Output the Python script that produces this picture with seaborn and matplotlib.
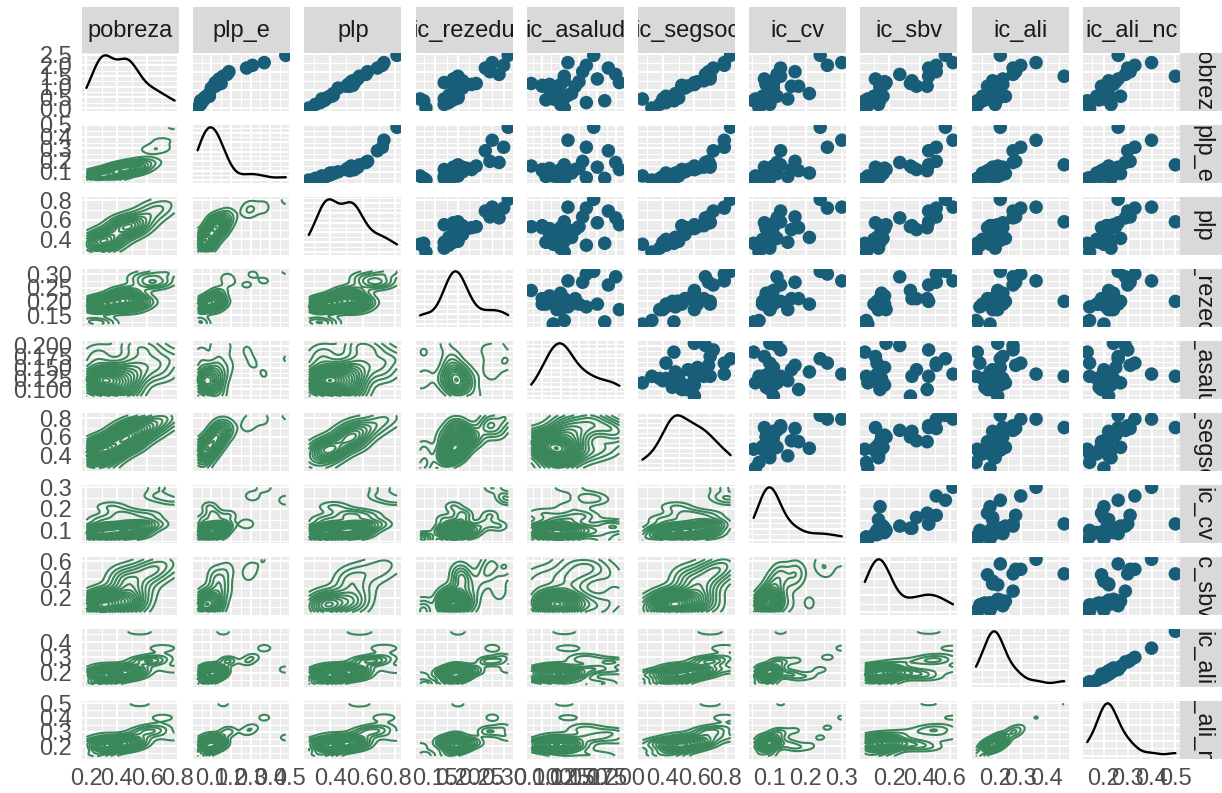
import numpy as np
import pandas as pd
import matplotlib
matplotlib.use("Agg")
import matplotlib.pyplot as plt
import seaborn as sns
from matplotlib.ticker import MaxNLocator

# ---- data: one value per state, ten poverty / deprivation indicators ----
pobreza   = [0.33, 0.26, 0.30, 0.44, 0.30, 0.32, 0.78, 0.33, 0.28, 0.45, 0.46, 0.70, 0.50, 0.31, 0.48, 0.57,
             0.49, 0.42, 0.20, 0.67, 0.64, 0.29, 0.36, 0.47, 0.33, 0.24, 0.55, 0.34, 0.52, 0.60, 0.44, 0.46]
plp_e     = [0.075, 0.05, 0.06, 0.12, 0.065, 0.07, 0.48, 0.09, 0.045, 0.12, 0.12, 0.37, 0.14, 0.065, 0.12, 0.18,
             0.13, 0.10, 0.03, 0.31, 0.28, 0.06, 0.09, 0.15, 0.085, 0.045, 0.16, 0.085, 0.14, 0.19, 0.11, 0.13]
plp       = [0.40, 0.34, 0.37, 0.50, 0.35, 0.39, 0.81, 0.40, 0.36, 0.54, 0.52, 0.73, 0.54, 0.38, 0.55, 0.62,
             0.53, 0.45, 0.27, 0.72, 0.69, 0.37, 0.42, 0.53, 0.41, 0.31, 0.58, 0.42, 0.57, 0.63, 0.52, 0.51]
ic_rezedu = [0.19, 0.18, 0.17, 0.21, 0.117, 0.20, 0.31, 0.19, 0.125, 0.19, 0.23, 0.275, 0.21, 0.20, 0.17, 0.29,
             0.19, 0.21, 0.13, 0.30, 0.26, 0.19, 0.19, 0.24, 0.20, 0.17, 0.20, 0.18, 0.19, 0.27, 0.21, 0.22]
ic_asalud = [0.12, 0.16, 0.12, 0.145, 0.115, 0.11, 0.17, 0.125, 0.185, 0.10, 0.125, 0.135, 0.13, 0.13, 0.205, 0.20,
             0.15, 0.11, 0.13, 0.16, 0.19, 0.105, 0.14, 0.085, 0.115, 0.125, 0.13, 0.135, 0.175, 0.155, 0.10, 0.11]
ic_segsoc = [0.47, 0.42, 0.40, 0.56, 0.27, 0.46, 0.83, 0.42, 0.47, 0.52, 0.60, 0.79, 0.66, 0.50, 0.60, 0.67,
             0.62, 0.54, 0.33, 0.79, 0.72, 0.46, 0.48, 0.60, 0.49, 0.38, 0.70, 0.48, 0.70, 0.69, 0.55, 0.60]
ic_cv     = [0.08, 0.10, 0.15, 0.16, 0.06, 0.10, 0.24, 0.09, 0.055, 0.10, 0.09, 0.30, 0.11, 0.08, 0.10, 0.12,
             0.11, 0.11, 0.07, 0.26, 0.13, 0.09, 0.21, 0.11, 0.12, 0.10, 0.13, 0.095, 0.085, 0.17, 0.18, 0.09]
ic_sbv    = [0.10, 0.12, 0.13, 0.38, 0.06, 0.14, 0.57, 0.13, 0.04, 0.14, 0.15, 0.62, 0.35, 0.12, 0.18, 0.27,
             0.17, 0.14, 0.05, 0.51, 0.46, 0.14, 0.14, 0.34, 0.16, 0.13, 0.46, 0.12, 0.11, 0.51, 0.45, 0.17]
ic_ali    = [0.17, 0.14, 0.19, 0.19, 0.18, 0.22, 0.22, 0.15, 0.13, 0.18, 0.23, 0.36, 0.19, 0.19, 0.21, 0.27,
             0.22, 0.20, 0.125, 0.30, 0.27, 0.16, 0.18, 0.21, 0.24, 0.20, 0.47, 0.19, 0.23, 0.28, 0.17, 0.21]
ic_ali_nc = [0.20, 0.14, 0.22, 0.20, 0.20, 0.23, 0.26, 0.17, 0.13, 0.21, 0.24, 0.40, 0.22, 0.19, 0.24, 0.29,
             0.25, 0.21, 0.14, 0.33, 0.30, 0.18, 0.20, 0.22, 0.27, 0.23, 0.50, 0.21, 0.26, 0.31, 0.19, 0.22]

variables = ["pobreza", "plp_e", "plp", "ic_rezedu", "ic_asalud",
             "ic_segsoc", "ic_cv", "ic_sbv", "ic_ali", "ic_ali_nc"]

# axis breaks and their labels for each indicator
ticks_pobreza   = [0.2, 0.4, 0.6, 0.8]
ticks_plp_e     = [0.1, 0.2, 0.3, 0.4, 0.5]
ticks_plp       = [0.4, 0.6, 0.8]
ticks_ic_rezedu = [0.15, 0.20, 0.25, 0.30]
ticks_ic_asalud = [0.100, 0.125, 0.150, 0.175, 0.200]
ticks_ic_segsoc = [0.4, 0.6, 0.8]
ticks_ic_cv     = [0.1, 0.2, 0.3]
ticks_ic_sbv    = [0.2, 0.4, 0.6]
ticks_ic_ali    = [0.2, 0.3, 0.4]
ticks_ic_ali_nc = [0.2, 0.3, 0.4, 0.5]

labels_pobreza   = ["0.2", "0.4", "0.6", "0.8"]
labels_plp_e     = ["0.1", "0.2", "0.3", "0.4", "0.5"]
labels_plp       = ["0.4", "0.6", "0.8"]
labels_ic_rezedu = ["0.15", "0.20", "0.25", "0.30"]
labels_ic_asalud = ["0.100", "0.125", "0.150", "0.175", "0.200"]
labels_ic_segsoc = ["0.4", "0.6", "0.8"]
labels_ic_cv     = ["0.1", "0.2", "0.3"]
labels_ic_sbv    = ["0.2", "0.4", "0.6"]
labels_ic_ali    = ["0.2", "0.3", "0.4"]
labels_ic_ali_nc = ["0.2", "0.3", "0.4", "0.5"]

df = pd.DataFrame({
    "pobreza": pobreza, "plp_e": plp_e, "plp": plp, "ic_rezedu": ic_rezedu,
    "ic_asalud": ic_asalud, "ic_segsoc": ic_segsoc, "ic_cv": ic_cv,
    "ic_sbv": ic_sbv, "ic_ali": ic_ali, "ic_ali_nc": ic_ali_nc,
})
breaks = dict(zip(variables, [ticks_pobreza, ticks_plp_e, ticks_plp, ticks_ic_rezedu, ticks_ic_asalud,
                              ticks_ic_segsoc, ticks_ic_cv, ticks_ic_sbv, ticks_ic_ali, ticks_ic_ali_nc]))
break_labels = dict(zip(variables, [labels_pobreza, labels_plp_e, labels_plp, labels_ic_rezedu,
                                    labels_ic_asalud, labels_ic_segsoc, labels_ic_cv, labels_ic_sbv,
                                    labels_ic_ali, labels_ic_ali_nc]))

# ---- style ----
sns.set_style("white")
plt.rcParams["font.family"] = ["Liberation Sans", "DejaVu Sans"]

W, H = 1222, 793
fig = plt.figure(figsize=(W / 100, H / 100), dpi=100)
fig.patch.set_facecolor("white")

PANEL_BG = "#EBEBEB"
STRIP_BG = "#D9D9D9"
POINT_COL = "#185E79"
CONTOUR_COL = "#3A875A"
TICK_TXT = "#4D4D4D"
FS = 17

left0, step_x, pw = 82.0, 111.2, 97.0
top0, step_y, ph = 52.7, 72.0, 58.0
strip_h = 46.0


def box(x0, y0, w, h):
    return [x0 / W, 1 - (y0 + h) / H, w / W, h / H]


def expanded(vals):
    lo, hi = min(vals), max(vals)
    pad = 0.05 * (hi - lo)
    return lo - pad, hi + pad


def minor_breaks(major, lim):
    major = list(major)
    if len(major) < 2:
        return []
    step = major[1] - major[0]
    cand = [m - step / 2 for m in major] + [major[-1] + step / 2]
    return [c for c in cand if lim[0] <= c <= lim[1]]


def set_grid(ax, xmaj, xlim, ymaj, ylim):
    ax.set_xlim(*xlim)
    ax.set_ylim(*ylim)
    ax.set_xticks([t for t in xmaj if xlim[0] <= t <= xlim[1]])
    ax.set_yticks([t for t in ymaj if ylim[0] <= t <= ylim[1]])
    ax.set_xticks(minor_breaks(xmaj, xlim), minor=True)
    ax.set_yticks(minor_breaks(ymaj, ylim), minor=True)
    ax.grid(which="major", color="white", linewidth=1.5)
    ax.grid(which="minor", color="white", linewidth=0.8)
    ax.set_axisbelow(True)


def nrd_sd(v):
    """Normal-reference kernel sd (bandwidth.nrd / 4)."""
    v = np.asarray(v, float)
    q1, q3 = np.percentile(v, [25, 75])
    spread = min(v.std(ddof=1), (q3 - q1) / 1.34)
    return 1.06 * spread * len(v) ** (-0.2)


def density_contours(ax, xs, ys, color, lw, ngrid=100):
    """Product-Gaussian 2D density over the data range, contoured at evenly spaced levels."""
    xs = np.asarray(xs, float)
    ys = np.asarray(ys, float)
    gx = np.linspace(xs.min(), xs.max(), ngrid)
    gy = np.linspace(ys.min(), ys.max(), ngrid)
    hx, hy = nrd_sd(xs), nrd_sd(ys)
    kx = np.exp(-0.5 * ((gx[:, None] - xs[None, :]) / hx) ** 2) / (np.sqrt(2 * np.pi) * hx)
    ky = np.exp(-0.5 * ((gy[:, None] - ys[None, :]) / hy) ** 2) / (np.sqrt(2 * np.pi) * hy)
    z = (ky @ kx.T) / len(xs)
    lv = MaxNLocator(nbins=20, steps=[1, 2, 2.5, 5, 10]).tick_values(z.min(), z.max())
    lv = [l for l in lv if z.min() < l < z.max()]
    ax.contour(gx, gy, z, levels=lv, colors=color, linewidths=lw)


n = len(variables)
for i, yv in enumerate(variables):
    for j, xv in enumerate(variables):
        ax = fig.add_axes(box(left0 + j * step_x, top0 + i * step_y, pw, ph))
        ax.set_facecolor(PANEL_BG)
        xlim = expanded(df[xv])

        if i == j:
            sns.kdeplot(x=df[xv], ax=ax, color="black", linewidth=1.7, cut=0,
                        bw_method="scott", bw_adjust=0.9)
            dmax = max(line.get_ydata().max() for line in ax.lines)
            ylim = (-0.05 * dmax, 1.05 * dmax)
            ymaj = list(MaxNLocator(nbins=6, steps=[1, 2, 2.5, 5, 10]).tick_values(0, dmax))
            ylabels = ["%.1f" % t for t in ymaj]
        elif i < j:
            sns.scatterplot(x=df[xv], y=df[yv], ax=ax, s=95, color=POINT_COL,
                            edgecolor="none", linewidth=0)
            ylim = expanded(df[yv])
            ymaj, ylabels = breaks[yv], break_labels[yv]
        else:
            density_contours(ax, df[xv], df[yv], CONTOUR_COL, 1.5)
            ylim = expanded(df[yv])
            ymaj, ylabels = breaks[yv], break_labels[yv]

        set_grid(ax, breaks[xv], xlim, ymaj, ylim)
        ax.set_xlabel("")
        ax.set_ylabel("")
        for sp in ax.spines.values():
            sp.set_visible(False)

        ax.tick_params(which="minor", length=0)
        ax.tick_params(which="major", length=5, width=1.1, color="#333333",
                       labelsize=FS, labelcolor=TICK_TXT, pad=2)
        if j == 0:
            shown = [lab for t, lab in zip(ymaj, ylabels) if ylim[0] <= t <= ylim[1]]
            ax.set_yticklabels(shown)
        else:
            ax.tick_params(axis="y", left=False, labelleft=False)
        if i == n - 1:
            xm = breaks[xv]
            shown = [lab for t, lab in zip(xm, break_labels[xv]) if xlim[0] <= t <= xlim[1]]
            ax.set_xticklabels(shown)
        else:
            ax.tick_params(axis="x", bottom=False, labelbottom=False)

# ---- facet strips ----
for j, name in enumerate(variables):
    s = fig.add_axes(box(left0 + j * step_x, top0 - strip_h, pw, strip_h))
    s.set_facecolor(STRIP_BG)
    s.set_xticks([]); s.set_yticks([])
    for sp in s.spines.values():
        sp.set_visible(False)
    s.text(0.5, 0.47, name, ha="center", va="center", fontsize=FS, color="#1A1A1A",
           transform=s.transAxes, clip_on=True)

for i, name in enumerate(variables):
    s = fig.add_axes(box(left0 + (n - 1) * step_x + pw, top0 + i * step_y, strip_h, ph))
    s.set_facecolor(STRIP_BG)
    s.set_xticks([]); s.set_yticks([])
    for sp in s.spines.values():
        sp.set_visible(False)
    s.text(0.5, 0.5, name, ha="center", va="center", rotation=270, fontsize=FS,
           color="#1A1A1A", transform=s.transAxes, clip_on=True)

fig.savefig("out.png", dpi=100, facecolor="white")
